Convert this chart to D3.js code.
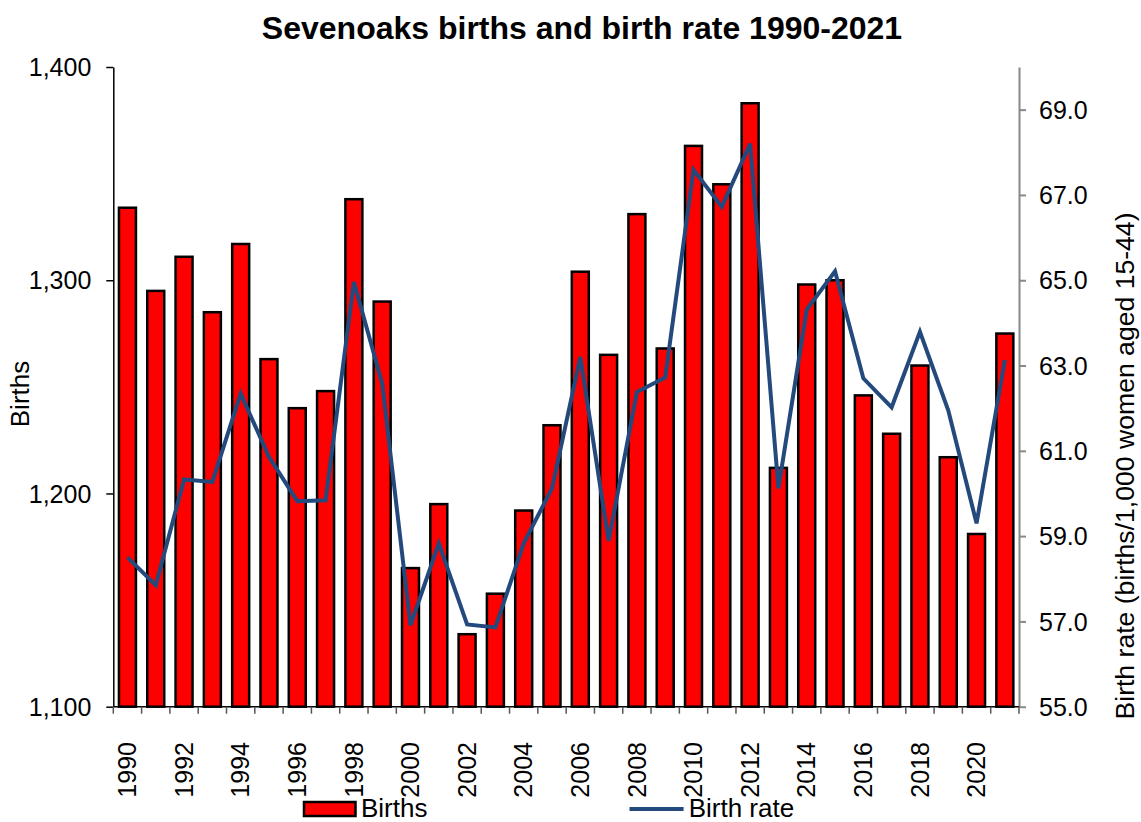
<!DOCTYPE html>
<html><head><meta charset="utf-8">
<script src="https://cdnjs.cloudflare.com/ajax/libs/d3/7.8.5/d3.min.js"></script>
<style>body{margin:0;background:#fff;} text{font-family:"Liberation Sans",Arial,sans-serif;}</style>
</head><body>
<svg id="chart" width="1141" height="822"></svg>
<script>
const years = ["1990","1991","1992","1993","1994","1995","1996","1997","1998","1999","2000","2001","2002","2003","2004","2005","2006","2007","2008","2009","2010","2011","2012","2013","2014","2015","2016","2017","2018","2019","2020","2021"];
const births = [1334,1295,1311,1285,1317,1263,1240,1248,1338,1290,1165,1195,1134,1153,1192,1232,1304,1265,1331,1268,1363,1345,1383,1212,1298,1300,1246,1228,1260,1217,1181,1275];
const birthRate = [58.5,57.85,60.33,60.27,62.34,60.86,59.82,59.84,64.96,62.58,56.91,58.83,56.93,56.86,58.83,60.12,63.2,58.89,62.38,62.72,67.59,66.72,68.2,60.12,64.31,65.21,62.7,62.02,63.79,61.95,59.3,63.13];
const leftTicks = [1100,1200,1300,1400];
const rightTicks = [55,57,59,61,63,65,67,69];
const title = "Sevenoaks births and birth rate 1990-2021";
const leftTitle = "Births";
const rightTitle = "Birth rate (births/1,000 women aged 15-44)";

const svg = d3.select("#chart");
const L = 113.3, R = 1019, T = 67, B = 706.7;
const x = d3.scaleBand().domain(years).range([L, R]).paddingInner(0.4).paddingOuter(0.2);
const yL = d3.scaleLinear().domain([1100,1400]).range([B, T]);
const yR = d3.scaleLinear().domain([55,70]).range([B, T]);

// title
svg.append("text").attr("x", 582).attr("y", 39).attr("text-anchor","middle")
  .style("font-size","32px").style("font-weight","bold").text(title);

// bars
svg.append("g").selectAll("rect").data(years).join("rect")
  .attr("x", d => x(d)).attr("width", x.bandwidth())
  .attr("y", (d,i) => yL(births[i])).attr("height", (d,i) => B - yL(births[i]))
  .attr("fill","#ff0000").attr("stroke","#000").attr("stroke-width",2.5);

// line
const line = d3.line().x((d,i) => x(years[i]) + x.bandwidth()/2).y(d => yR(d));
svg.append("path").datum(birthRate).attr("d", line).attr("fill","none")
  .attr("stroke","#24497c").attr("stroke-width",4).attr("stroke-linejoin","miter");

// left axis
const gl = svg.append("g").attr("transform",`translate(${L},0)`)
  .call(d3.axisLeft(yL).tickValues(leftTicks).tickFormat(d3.format(",")).tickSize(7).tickSizeOuter(0));
gl.select(".domain").attr("stroke","#000").attr("stroke-width",1.5);
gl.selectAll(".tick line").attr("stroke","#000").attr("stroke-width",1.5);
gl.selectAll(".tick text").style("font-size","25px").attr("fill","#000").attr("x",-22).attr("dy","0.35em");

// right axis
const gr = svg.append("g").attr("transform",`translate(${R},0)`)
  .call(d3.axisRight(yR).tickValues(rightTicks).tickFormat(d3.format(".1f")).tickSize(7).tickSizeOuter(0));
gr.select(".domain").attr("stroke","#888").attr("stroke-width",2);
gr.selectAll(".tick line").attr("stroke","#888").attr("stroke-width",2);
gr.selectAll(".tick text").style("font-size","25px").attr("fill","#000").attr("x",20).attr("dy","0.35em");

// bottom axis: line + ticks at category boundaries
const boundaries = d3.range(years.length + 1).map(i => L + i * (R - L) / years.length);
svg.append("line").attr("x1",L).attr("x2",R).attr("y1",B).attr("y2",B).attr("stroke","#000").attr("stroke-width",1.5);
svg.append("g").selectAll("line").data(boundaries).join("line")
  .attr("x1",d=>d).attr("x2",d=>d).attr("y1",B).attr("y2",B+7).attr("stroke","#555").attr("stroke-width",1.5);
svg.append("g").selectAll("text").data(years.filter((d,i)=>i%2===0)).join("text")
  .attr("transform", d => `translate(${x(d)+x.bandwidth()/2},742) rotate(-90)`)
  .attr("text-anchor","end").attr("dy","0.35em").style("font-size","25px").text(d=>d);

// axis titles
svg.append("text").attr("transform","translate(29,394) rotate(-90)").attr("text-anchor","middle")
  .style("font-size","26px").text(leftTitle);
svg.append("text").attr("transform","translate(1134,466) rotate(-90)").attr("text-anchor","middle")
  .style("font-size","26.6px").text(rightTitle);

// legend
svg.append("rect").attr("x",304).attr("y",802).attr("width",51.5).attr("height",14)
  .attr("fill","#ff0000").attr("stroke","#000").attr("stroke-width",2.5);
svg.append("text").attr("x",361).attr("y",817).style("font-size","26px").text("Births");
svg.append("line").attr("x1",629.5).attr("x2",683.6).attr("y1",809).attr("y2",809)
  .attr("stroke","#24497c").attr("stroke-width",4);
svg.append("text").attr("x",688.7).attr("y",817).style("font-size","26px").text("Birth rate");
</script>
</body></html>
